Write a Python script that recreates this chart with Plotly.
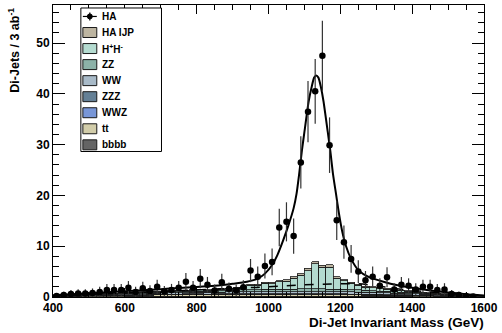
import plotly.graph_objects as go

# ---------------- data ----------------
bin_centers = [410, 430, 450, 470, 490, 510, 530, 550, 570, 590,
               610, 630, 650, 670, 690, 710, 730, 750, 770, 790,
               810, 830, 850, 870, 890, 910, 930, 950, 970, 990,
               1010, 1030, 1050, 1070, 1090, 1110, 1130, 1150, 1170, 1190,
               1210, 1230, 1250, 1270, 1290, 1310, 1330, 1350, 1370, 1390,
               1410, 1430, 1450, 1470, 1490, 1510, 1530, 1550, 1570, 1590]
bin_width = 20

ha_vals = [0.2, 0.4, 0.6, 0.7, 0.7, 0.8, 1.0, 1.4, 1.4, 1.4,
           1.8, 1.0, 1.7, 1.2, 2.0, 1.1, 1.4, 1.8, 3.0, 1.8,
           3.6, 2.4, 1.3, 2.9, 1.6, 1.3, 1.9, 5.2, 4.0, 6.1,
           6.9, 13.7, 14.8, 12.0, 26.5, 36.5, 40.5, 47.5, 29.9, 15.1,
           10.8, 7.5, 5.0, 3.3, 4.0, 2.2, 3.9, 1.5, 2.4, 2.2,
           1.5, 2.0, 2.0, 1.4, 1.5, 0.6, 0.4, 0.2, 0.1, None]
ha_err = [0.45, 0.63, 0.77, 0.84, 0.84, 0.89, 1.0, 1.18, 1.18, 1.18,
          1.34, 1.0, 1.3, 1.1, 1.41, 1.05, 1.18, 1.34, 1.73, 1.34,
          1.9, 1.55, 1.14, 1.7, 1.26, 1.14, 1.38, 2.28, 2.0, 2.47,
          2.63, 3.7, 3.85, 3.46, 5.15, 6.04, 6.36, 6.89, 5.47, 3.89,
          3.29, 2.74, 2.24, 1.82, 2.0, 1.48, 1.97, 1.22, 1.55, 1.48,
          1.22, 1.41, 1.41, 1.18, 1.22, 0.77, 0.63, 0.45, 0.32, 0]

bbbb = [0.03, 0.04, 0.05, 0.05, 0.06, 0.06, 0.07, 0.08, 0.08, 0.09,
        0.1, 0.1, 0.1, 0.11, 0.11, 0.12, 0.12, 0.12, 0.13, 0.13,
        0.13, 0.13, 0.14, 0.14, 0.14, 0.14, 0.15, 0.15, 0.15, 0.15,
        0.15, 0.15, 0.15, 0.15, 0.15, 0.15, 0.15, 0.15, 0.15, 0.15,
        0.15, 0.14, 0.14, 0.13, 0.13, 0.12, 0.12, 0.11, 0.1, 0.1,
        0.09, 0.08, 0.07, 0.06, 0.05, 0.05, 0.04, 0.03, 0.02, 0.01]
tt = [0.08, 0.1, 0.12, 0.13, 0.15, 0.16, 0.18, 0.2, 0.22, 0.24,
      0.25, 0.26, 0.27, 0.28, 0.3, 0.3, 0.31, 0.3, 0.32, 0.33,
      0.32, 0.3, 0.33, 0.32, 0.34, 0.33, 0.32, 0.3, 0.3, 0.32,
      0.3, 0.31, 0.3, 0.29, 0.3, 0.28, 0.3, 0.28, 0.3, 0.28,
      0.3, 0.28, 0.27, 0.26, 0.25, 0.24, 0.23, 0.22, 0.2, 0.19,
      0.17, 0.16, 0.14, 0.12, 0.1, 0.09, 0.07, 0.05, 0.04, 0.02]
wwz = [0.01, 0.01, 0.02, 0.02, 0.02, 0.02, 0.03, 0.03, 0.03, 0.03,
       0.03, 0.04, 0.04, 0.04, 0.04, 0.04, 0.04, 0.05, 0.05, 0.05,
       0.05, 0.05, 0.05, 0.05, 0.05, 0.05, 0.05, 0.05, 0.05, 0.05,
       0.05, 0.05, 0.05, 0.05, 0.05, 0.05, 0.05, 0.05, 0.05, 0.05,
       0.05, 0.05, 0.05, 0.05, 0.04, 0.04, 0.04, 0.04, 0.04, 0.03,
       0.03, 0.03, 0.03, 0.02, 0.02, 0.02, 0.02, 0.01, 0.01, 0.01]
zzz = [0.02, 0.03, 0.03, 0.04, 0.04, 0.05, 0.05, 0.06, 0.06, 0.07,
       0.07, 0.08, 0.08, 0.08, 0.09, 0.09, 0.1, 0.1, 0.1, 0.1,
       0.11, 0.11, 0.11, 0.11, 0.12, 0.12, 0.12, 0.12, 0.12, 0.12,
       0.12, 0.12, 0.12, 0.12, 0.12, 0.12, 0.12, 0.12, 0.12, 0.12,
       0.12, 0.12, 0.11, 0.11, 0.11, 0.1, 0.1, 0.1, 0.09, 0.09,
       0.08, 0.08, 0.07, 0.06, 0.06, 0.05, 0.04, 0.03, 0.02, 0.02]
ww = [0.06, 0.07, 0.08, 0.09, 0.1, 0.11, 0.12, 0.14, 0.15, 0.17,
      0.18, 0.19, 0.2, 0.21, 0.23, 0.24, 0.25, 0.26, 0.27, 0.29,
      0.3, 0.31, 0.33, 0.34, 0.36, 0.38, 0.4, 0.42, 0.43, 0.44,
      0.45, 0.45, 0.46, 0.46, 0.46, 0.46, 0.46, 0.46, 0.45, 0.45,
      0.44, 0.42, 0.4, 0.38, 0.36, 0.34, 0.32, 0.3, 0.28, 0.26,
      0.24, 0.21, 0.19, 0.17, 0.15, 0.13, 0.11, 0.09, 0.07, 0.05]
zz = [0.04, 0.05, 0.05, 0.06, 0.07, 0.08, 0.08, 0.1, 0.11, 0.12,
      0.13, 0.14, 0.15, 0.16, 0.18, 0.19, 0.2, 0.21, 0.22, 0.24,
      0.26, 0.27, 0.29, 0.3, 0.32, 0.34, 0.36, 0.38, 0.4, 0.42,
      0.44, 0.46, 0.48, 0.5, 0.5, 0.52, 0.52, 0.52, 0.5, 0.5,
      0.48, 0.46, 0.43, 0.4, 0.37, 0.34, 0.31, 0.28, 0.25, 0.22,
      0.2, 0.18, 0.16, 0.14, 0.12, 0.1, 0.08, 0.06, 0.05, 0.03]
hphm = [0.03, 0.04, 0.04, 0.05, 0.06, 0.06, 0.07, 0.08, 0.08, 0.09,
        0.1, 0.1, 0.11, 0.12, 0.13, 0.14, 0.15, 0.16, 0.17, 0.2,
        0.25, 0.2, 0.22, 0.25, 0.3, 0.35, 0.5, 0.9, 0.9, 1.2,
        1.1, 1.5, 1.5, 2.1, 2.7, 3.6, 4.9, 4.3, 4.3, 2.1,
        1.7, 1.2, 0.9, 0.6, 0.6, 0.4, 0.4, 0.3, 0.25, 0.2,
        0.15, 0.12, 0.1, 0.08, 0.06, 0.05, 0.04, 0.03, 0.02, 0.01]
ha_ijp = [0.02, 0.02, 0.03, 0.03, 0.03, 0.04, 0.04, 0.05, 0.05, 0.05,
          0.05, 0.06, 0.06, 0.06, 0.07, 0.07, 0.07, 0.08, 0.08, 0.08,
          0.1, 0.1, 0.1, 0.1, 0.1, 0.12, 0.15, 0.2, 0.2, 0.2,
          0.3, 0.2, 0.3, 0.3, 0.3, 0.5, 0.4, 0.4, 0.5, 0.3,
          0.2, 0.2, 0.2, 0.2, 0.2, 0.2, 0.2, 0.1, 0.1, 0.1,
          0.08, 0.08, 0.06, 0.05, 0.04, 0.03, 0.03, 0.02, 0.01, 0.01]

fit_x = [400, 450, 500, 550, 600, 650, 700, 750, 800, 850,
         900, 940, 970, 990, 1010, 1025, 1040, 1055, 1070, 1078,
         1085, 1093, 1100, 1112, 1120, 1127, 1133, 1139, 1146, 1153,
         1165, 1172, 1180, 1188, 1196, 1205, 1215, 1230, 1250, 1280,
         1320, 1360, 1400, 1450, 1500, 1550, 1600]
fit_y = [0.35, 0.55, 0.75, 0.95, 1.15, 1.35, 1.55, 1.75, 1.95, 2.2,
         2.6, 3.0, 3.6, 4.6, 6.3, 8.3, 11, 14, 17.5, 20.3,
         24, 28.8, 32.5, 38.6, 41.3, 43.2, 43.6, 43.2, 41.3, 38.6,
         32.5, 28.8, 24, 20.3, 16.5, 13, 10.2, 7.5, 5.3, 3.9,
         3.0, 2.3, 1.8, 1.3, 0.9, 0.55, 0.3]

bg_x = [400, 500, 600, 700, 800, 900, 1000, 1100, 1200, 1250, 1300, 1350, 1400, 1450, 1500, 1550, 1600]
bg_y = [0.2, 0.5, 0.8, 1.1, 1.4, 1.7, 2.0, 2.4, 2.6, 2.6, 2.2, 1.7, 1.3, 1.0, 0.7, 0.45, 0.25]

x_ticks = [400, 600, 800, 1000, 1200, 1400, 1600]
y_ticks = [0, 10, 20, 30, 40, 50]

legend_labels = ["HA", "HA IJP", "H<sup>+</sup>H<sup>-</sup>", "ZZ", "WW", "ZZZ", "WWZ", "tt", "bbbb"]

# ---------------- style ----------------
FONT = "Liberation Sans, Arial, Helvetica, sans-serif"
colors = {
    "HA IJP": "#bdb5a1",
    "HH": "#b4dbd0",
    "ZZ": "#8cb2a8",
    "WW": "#a8bac8",
    "ZZZ": "#648096",
    "WWZ": "#7896d7",
    "tt": "#d2cdaa",
    "bbbb": "#646464",
}

fig = go.Figure()

stack = [("bbbb", bbbb), ("tt", tt), ("WWZ", wwz), ("ZZZ", zzz),
         ("WW", ww), ("ZZ", zz), ("HH", hphm), ("HA IJP", ha_ijp)]
for name, vals in stack:
    fig.add_trace(go.Bar(
        x=bin_centers, y=vals, width=bin_width, name=name,
        marker=dict(color=colors[name], line=dict(color="#1a1a1a", width=0.8)),
        showlegend=False, hoverinfo="skip"))

fig.add_trace(go.Scatter(x=bg_x, y=bg_y, mode="lines",
                         line=dict(color="black", width=1.5, dash="dash", shape="spline"),
                         showlegend=False, hoverinfo="skip"))
fig.add_trace(go.Scatter(x=fit_x, y=fit_y, mode="lines",
                         line=dict(color="black", width=2, shape="spline", smoothing=0.6),
                         showlegend=False, hoverinfo="skip"))
fig.add_trace(go.Scatter(
    x=bin_centers, y=ha_vals, mode="markers",
    marker=dict(color="black", size=6.5),
    error_y=dict(type="data", array=ha_err, visible=True, color="#333333", thickness=1.2, width=0),
    showlegend=False, hoverinfo="skip"))

# ---------------- layout ----------------
W, H = 502, 333
L, R, T, B = 53, 486, 4, 297


def px(x):
    return (x - L) / (R - L)


def py(y):
    return (B - y) / (B - T)


shapes = []
annotations = []
# legend frame
shapes.append(dict(type="rect", xref="paper", yref="paper",
                   x0=px(81), x1=px(162), y0=py(151), y1=py(7),
                   line=dict(color="black", width=1), fillcolor="white", layer="above"))
legend_colors = [None, colors["HA IJP"], colors["HH"], colors["ZZ"], colors["WW"],
                 colors["ZZZ"], colors["WWZ"], colors["tt"], colors["bbbb"]]
for i, (lab, col) in enumerate(zip(legend_labels, legend_colors)):
    yc = 15.5 + 16.1 * i
    if col is None:
        shapes.append(dict(type="line", xref="paper", yref="paper",
                           x0=px(83), x1=px(97), y0=py(yc), y1=py(yc),
                           line=dict(color="black", width=1.2), layer="above"))
        shapes.append(dict(type="line", xref="paper", yref="paper",
                           x0=px(90), x1=px(90), y0=py(yc - 4), y1=py(yc + 4),
                           line=dict(color="black", width=1.2), layer="above"))
        shapes.append(dict(type="circle", xref="paper", yref="paper",
                           x0=px(87.5), x1=px(92.5), y0=py(yc + 2.5), y1=py(yc - 2.5),
                           line=dict(color="black", width=1), fillcolor="black", layer="above"))
    else:
        shapes.append(dict(type="rect", xref="paper", yref="paper",
                           x0=px(83), x1=px(97), y0=py(yc + 5), y1=py(yc - 5),
                           line=dict(color="#1a1a1a", width=1), fillcolor=col, layer="above"))
    annotations.append(dict(text=lab, xref="paper", yref="paper", x=px(100), y=py(yc),
                            xanchor="left", yanchor="middle", showarrow=False,
                            font=dict(family=FONT, size=10, color="black", weight="bold")))

annotations.append(dict(text="Di-Jet Invariant Mass (GeV)", xref="paper", yref="paper",
                        x=px(488), y=py(332), xanchor="right", yanchor="bottom", showarrow=False,
                        font=dict(family=FONT, size=13.5, color="black", weight="bold")))
annotations.append(dict(text="Di-Jets / 3 ab<sup>-1</sup>", xref="paper", yref="paper",
                        x=px(14), y=py(5), xanchor="center", yanchor="top", textangle=-90,
                        showarrow=False,
                        font=dict(family=FONT, size=12.5, color="black", weight="bold")))

tickfont = dict(family=FONT, size=12, color="black", weight="bold")
fig.update_layout(
    width=W, height=H,
    margin=dict(l=L, r=W - R, t=T, b=H - B, pad=0),
    paper_bgcolor="white", plot_bgcolor="white",
    barmode="stack", bargap=0,
    showlegend=False,
    shapes=shapes, annotations=annotations,
    xaxis=dict(range=[400, 1600], tickvals=x_ticks, ticktext=[str(v) for v in x_ticks],
               ticks="inside", ticklen=9, tickwidth=1, tickcolor="black",
               minor=dict(dtick=50, tick0=400, ticks="inside", ticklen=5, tickcolor="black"),
               showline=True, linecolor="black", linewidth=1, mirror="allticks",
               showgrid=False, zeroline=False, tickfont=tickfont),
    yaxis=dict(range=[0, 57.5], tickvals=y_ticks, ticktext=[str(v) for v in y_ticks],
               ticks="inside", ticklen=12, tickwidth=1, tickcolor="black",
               minor=dict(dtick=2, tick0=0, ticks="inside", ticklen=6, tickcolor="black"),
               showline=True, linecolor="black", linewidth=1, mirror="allticks",
               showgrid=False, zeroline=False, tickfont=tickfont),
)

fig.write_html("out.html",
               config={"displayModeBar": False, "staticPlot": True},
               post_script="document.body.style.margin='0px';document.body.style.overflow='hidden';")
